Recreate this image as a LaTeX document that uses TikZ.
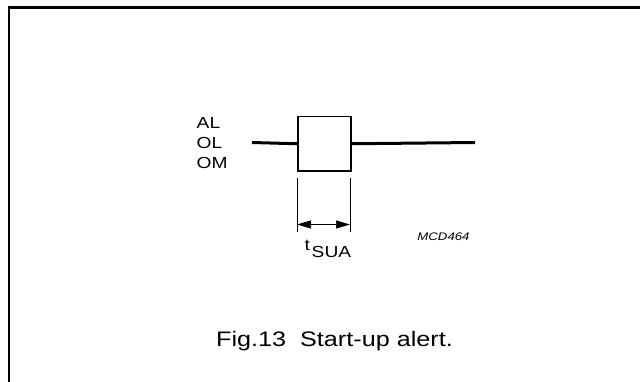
\documentclass[tikz,border=0pt]{standalone}
\usepackage{fontspec}
\setmainfont{Liberation Sans}[FakeStretch=1.2]
\usetikzlibrary{arrows.meta}
\begin{document}
\begin{tikzpicture}[x=1pt,y=-1pt,
  frame/.style={line width=2.2pt},
  signal/.style={line width=3pt},
  pulse/.style={line width=1.6pt},
  dimline/.style={line width=0.7pt},
  tip/.style={Triangle[length=14pt,width=8pt]},
  lbl/.style={inner sep=0pt,font=\fontsize{16}{20}\selectfont},
  every node/.style={inner sep=0pt}]
\useasboundingbox (0,0) rectangle (640,381);
\begin{scope}
\clip (0,0) rectangle (640,381);
\draw[frame] (9,7.5) rectangle (660,400);
\end{scope}
% signal line and pulse
\coordinate (s0) at (252,142.5);
\coordinate (s3) at (475,142.5);
\node[draw,pulse,minimum width=53pt,minimum height=54.5pt,anchor=north west] (box) at (297,115.7) {};
\draw[signal] (s0) -- (box.west);
\draw[signal] (box.east) -- (s3);
% labels
\node[lbl,anchor=west] (al) at (196.5,123) {AL};
\node[lbl,anchor=west] (ol) at (196.5,143) {OL};
\node[lbl,anchor=west] (om) at (196.5,163) {OM};
% dimension
\coordinate (e1t) at (297,178);
\coordinate (e1b) at (297,232);
\coordinate (e2t) at (350,178);
\coordinate (e2b) at (350,232);
\draw[dimline] (e1t) -- (e1b);
\draw[dimline] (e2t) -- (e2b);
\coordinate (a1) at (297,224.5);
\coordinate (a2) at (350,224.5);
\draw[dimline,{Triangle[length=14pt,width=8pt]}-{Triangle[length=14pt,width=8pt]}] (a1) -- (a2);
\node[lbl,anchor=base west] (t) at (304.5,250) {t};
\node[lbl,anchor=base west] (sua) at (311.5,257.5) {SUA};
\node[anchor=center,font=\fontsize{11}{13}\selectfont\itshape] (mcd) at (443.5,237) {MCD464};
% caption
\node[anchor=center,font=\fontsize{21}{24}\selectfont] (cap) at (334.5,341.5) {Fig.13\ \ Start-up alert.};
\end{tikzpicture}
\end{document}
